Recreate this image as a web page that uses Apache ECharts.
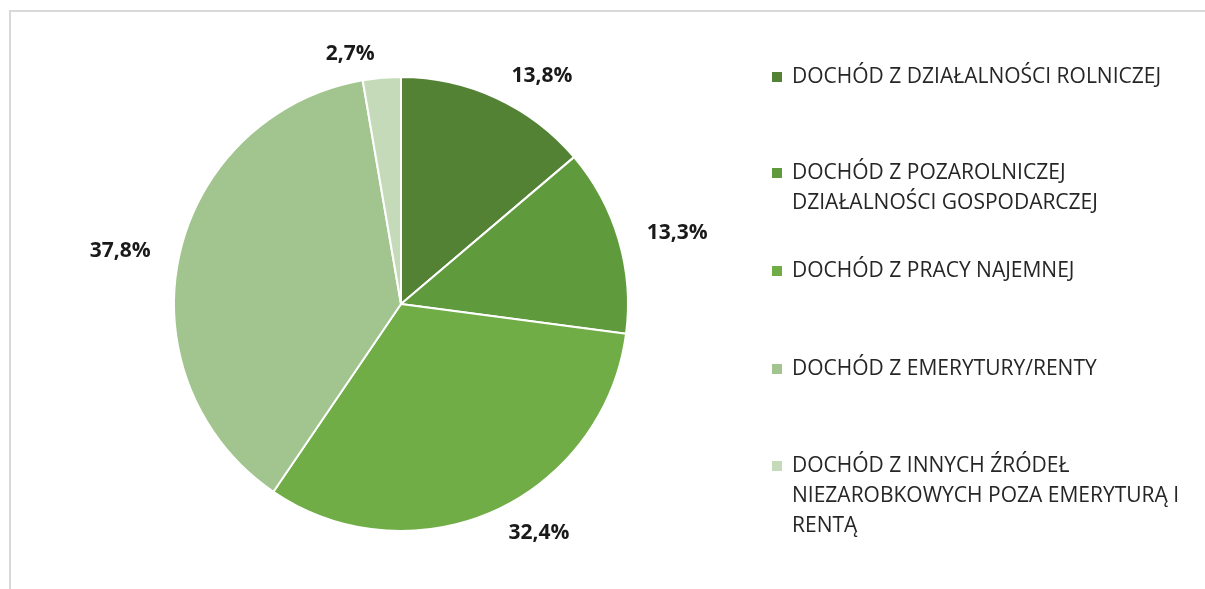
<!DOCTYPE html>
<html>
<head>
<meta charset="utf-8">
<script src="https://cdn.jsdelivr.net/npm/echarts@6/dist/echarts.min.js"></script>
<style>
  html, body { margin: 0; padding: 0; background: #fff; overflow: hidden; }
  #frame { position: absolute; left: 9px; top: 10px; width: 1300px; height: 700px;
           border-left: 2px solid #d9d9d9; border-top: 2px solid #d9d9d9; }
  #main { position: absolute; left: 0; top: 0; width: 1205px; height: 589px; }
</style>
</head>
<body>
<div id="frame"></div>
<div id="main"></div>
<script>
var names = [
    'DOCHÓD Z DZIAŁALNOŚCI ROLNICZEJ',
    'DOCHÓD Z POZAROLNICZEJ\nDZIAŁALNOŚCI GOSPODARCZEJ',
    'DOCHÓD Z PRACY NAJEMNEJ',
    'DOCHÓD Z EMERYTURY/RENTY',
    'DOCHÓD Z INNYCH ŹRÓDEŁ\nNIEZAROBKOWYCH POZA EMERYTURĄ I\nRENTĄ'
];
var values = [13.8, 13.3, 32.4, 37.8, 2.7];
var colors = ['#548235', '#5f9b3d', '#70ad47', '#a2c58f', '#c5dab8'];

// y of first legend line for each item
var legendY = [77, 173, 271, 369, 466];
var lineH = 30;

var myChart = echarts.init(document.getElementById('main'));

var pieData = [];
for (var i = 0; i < names.length; i++) {
    pieData.push({name: names[i], value: values[i], itemStyle: {color: colors[i]}});
}

function lineCount(name) {
    return name.split('\n').length;
}

var legends = [];
for (var i = 0; i < names.length; i++) {
    var n = lineCount(names[i]);
    legends.push({
        orient: 'vertical',
        left: 772,
        top: legendY[i] - (2 * n - 1) * lineH / 2,
        padding: 0,
        icon: 'rect',
        itemWidth: 10,
        itemHeight: 10,
        itemStyle: {borderWidth: 0},
        selectedMode: false,
        data: [names[i]],
        // empty leading lines keep the icon on the first text line
        formatter: function (name) {
            return new Array(lineCount(name)).join('\n') + name;
        },
        textStyle: {
            fontFamily: 'Open Sans',
            fontSize: 21,
            color: '#262626',
            lineHeight: lineH,
            padding: [0, 0, 0, 5]
        }
    });
}

myChart.setOption({
    animation: false,
    legend: legends,
    series: [{
        type: 'pie',
        center: [401, 304],
        radius: 227,
        startAngle: 90,
        clockwise: true,
        avoidLabelOverlap: false,
        itemStyle: {borderColor: '#fff', borderWidth: 2},
        label: {
            show: true,
            position: 'outside',
            fontFamily: 'Open Sans',
            fontWeight: 'bold',
            fontSize: 21,
            color: '#1a1a1a',
            formatter: function (p) {
                return p.value.toFixed(1).replace('.', ',') + '%';
            }
        },
        labelLine: {show: false, length: 24, length2: 0},
        data: pieData
    }]
});
</script>
</body>
</html>
